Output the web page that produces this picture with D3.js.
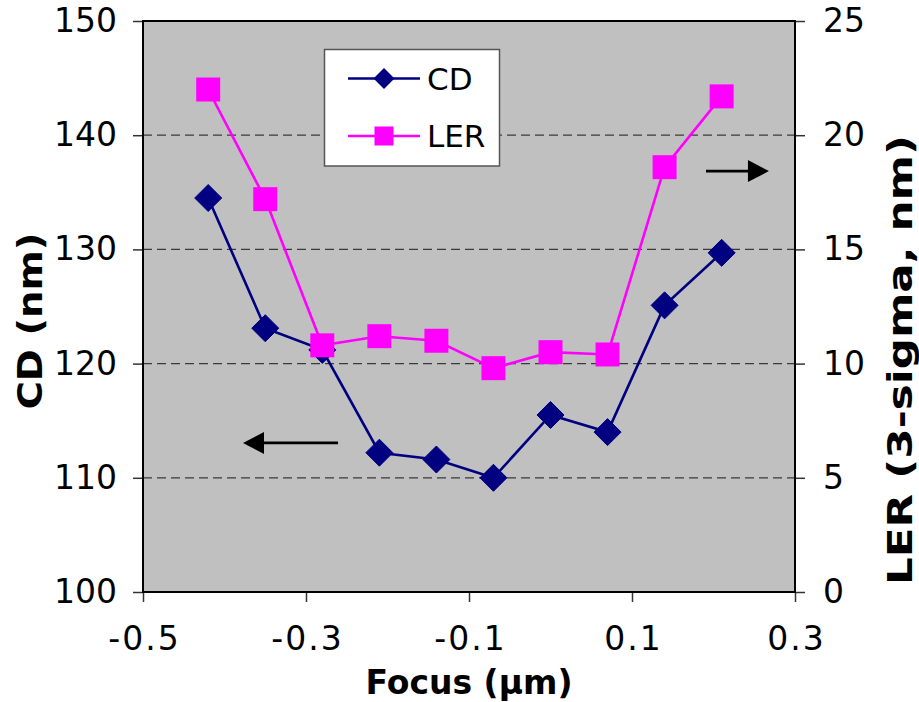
<!DOCTYPE html>
<html>
<head>
<meta charset="utf-8">
<script src="https://cdn.jsdelivr.net/npm/d3@7/dist/d3.min.js"></script>
<style>
  html, body { margin: 0; padding: 0; background: #ffffff; }
  svg { display: block; }
  text { font-family: "DejaVu Sans", Verdana, sans-serif; fill: #000; }
</style>
</head>
<body>
<svg id="chart" width="919" height="702"></svg>
<script>
// Focus positions (µm)
const focus = [-0.42, -0.35, -0.28, -0.21, -0.14, -0.07, 0.0, 0.07, 0.14, 0.21];
// Critical dimension (nm), left axis
const cd = [134.5, 123.1, 121.2, 112.2, 111.6, 110.0, 115.5, 114.0, 125.1, 129.7];
// Line edge roughness (3-sigma, nm), right axis
const ler = [22.0, 17.2, 10.8, 11.2, 11.0, 9.8, 10.5, 10.4, 18.6, 21.7];

// Axis ticks and labels
const xTicks = [-0.5, -0.3, -0.1, 0.1, 0.3];
const xTickLabels = ["-0.5", "-0.3", "-0.1", "0.1", "0.3"];
const cdTicks = [100, 110, 120, 130, 140, 150];
const lerTicks = [0, 5, 10, 15, 20, 25];
const cdGrid = [110, 120, 130, 140];

// Arrows pointing each series to its axis: [x0, x1] in focus units, y on that axis
const cdArrow = { from: -0.2607, to: -0.3773, y: 113.05 };
const lerArrow = { from: 0.1908, to: 0.268, y: 18.43 };

const svg = d3.select("#chart");
const plot = { left: 143, right: 795, top: 21, bottom: 592 };

const x = d3.scaleLinear().domain([-0.5, 0.3]).range([plot.left, plot.right]);
const yCD = d3.scaleLinear().domain([100, 150]).range([plot.bottom, plot.top]);
const yLER = d3.scaleLinear().domain([0, 25]).range([plot.bottom, plot.top]);

// Plot background
svg.append("rect")
  .attr("x", plot.left).attr("y", plot.top)
  .attr("width", plot.right - plot.left).attr("height", plot.bottom - plot.top)
  .attr("fill", "#c0c0c0");

// Dashed gridlines
svg.append("g").selectAll("line").data(cdGrid).join("line")
  .attr("x1", plot.left).attr("x2", plot.right)
  .attr("y1", d => yCD(d)).attr("y2", d => yCD(d))
  .attr("stroke", "#3a3a3a").attr("stroke-width", 1.3)
  .attr("stroke-dasharray", "9,5");

// Axes
const tickFont = "33px";
const gx = svg.append("g").attr("transform", `translate(0,${plot.bottom})`)
  .call(d3.axisBottom(x).tickValues(xTicks).tickFormat((d, i) => xTickLabels[i]).tickSize(10).tickPadding(25));
const gl = svg.append("g").attr("transform", `translate(${plot.left},0)`)
  .call(d3.axisLeft(yCD).tickValues(cdTicks).tickFormat(d3.format("d")).tickSize(10).tickPadding(16));
const gr = svg.append("g").attr("transform", `translate(${plot.right},0)`)
  .call(d3.axisRight(yLER).tickValues(lerTicks).tickFormat(d3.format("d")).tickSize(10).tickPadding(18));

[gx, gl, gr].forEach(g => {
  g.select(".domain").remove();
  g.selectAll(".tick line").attr("stroke", "#333").attr("stroke-width", 1.5);
  g.selectAll(".tick text").style("font-size", tickFont)
    .style("font-family", "'DejaVu Sans', Verdana, sans-serif").attr("fill", "#000");
});
gx.selectAll(".tick text").style("letter-spacing", "2px").attr("dx", "1px");

// Plot frame
svg.append("rect")
  .attr("x", plot.left).attr("y", plot.top)
  .attr("width", plot.right - plot.left).attr("height", plot.bottom - plot.top)
  .attr("fill", "none").attr("stroke", "#000").attr("stroke-width", 2);

// Marker shapes
const diamond = r => `M0,${-r}L${r},0L0,${r}L${-r},0Z`;
const square = s => `M${-s / 2},${-s / 2}h${s}v${s}h${-s}Z`;

const navy = "#000080", magenta = "#ff00ff";

// CD series
const cdPts = focus.map((f, i) => [x(f), yCD(cd[i])]);
svg.append("path").attr("d", d3.line()(cdPts))
  .attr("fill", "none").attr("stroke", navy).attr("stroke-width", 2.6);
svg.append("g").selectAll("path").data(cdPts).join("path")
  .attr("transform", d => `translate(${d[0]},${d[1]})`)
  .attr("d", diamond(13.5)).attr("fill", navy)
  .attr("stroke", navy).attr("stroke-width", 1).attr("stroke-linejoin", "round");

// LER series
const lerPts = focus.map((f, i) => [x(f), yLER(ler[i])]);
svg.append("path").attr("d", d3.line()(lerPts))
  .attr("fill", "none").attr("stroke", magenta).attr("stroke-width", 2.6);
svg.append("g").selectAll("path").data(lerPts).join("path")
  .attr("transform", d => `translate(${d[0]},${d[1]})`)
  .attr("d", square(24)).attr("fill", magenta);

// Arrows
function arrow(x0, x1, y) {
  const dir = Math.sign(x1 - x0);
  const headLen = 21, headHalf = 11;
  svg.append("line")
    .attr("x1", x0).attr("x2", x1 - dir * headLen + dir * 2)
    .attr("y1", y).attr("y2", y)
    .attr("stroke", "#000").attr("stroke-width", 2.8);
  svg.append("path")
    .attr("d", `M${x1},${y}L${x1 - dir * headLen},${y - headHalf}L${x1 - dir * headLen},${y + headHalf}Z`)
    .attr("fill", "#000");
}
arrow(x(cdArrow.from), x(cdArrow.to), yCD(cdArrow.y));
arrow(x(lerArrow.from), x(lerArrow.to), yLER(lerArrow.y));

// Legend
const legend = svg.append("g");
legend.append("rect")
  .attr("x", 324.5).attr("y", 49.5).attr("width", 175).attr("height", 116.5)
  .attr("fill", "#fff").attr("stroke", "#555").attr("stroke-width", 1.5);
const legendItems = [
  { name: "CD", color: navy, shape: diamond(10.5), y: 78.5 },
  { name: "LER", color: magenta, shape: square(19), y: 136 }
];
legendItems.forEach(it => {
  legend.append("line").attr("x1", 348).attr("x2", 420).attr("y1", it.y).attr("y2", it.y)
    .attr("stroke", it.color).attr("stroke-width", 2.6);
  legend.append("path").attr("transform", `translate(384,${it.y})`).attr("d", it.shape).attr("fill", it.color);
  legend.append("text").attr("x", 427).attr("y", it.y).attr("dy", "0.36em")
    .style("font-size", "31px").text(it.name);
});

// Axis titles
svg.append("text")
  .attr("transform", `translate(${(plot.left + plot.right) / 2},694)`)
  .attr("text-anchor", "middle").style("font-size", "34px").style("font-weight", "bold")
  .attr("textLength", 207).attr("lengthAdjust", "spacingAndGlyphs")
  .text("Focus (µm)");
svg.append("text")
  .attr("transform", "translate(42,321) rotate(-90)")
  .attr("text-anchor", "middle").style("font-size", "34px").style("font-weight", "bold")
  .attr("textLength", 177).attr("lengthAdjust", "spacingAndGlyphs")
  .text("CD (nm)");
svg.append("text")
  .attr("transform", "translate(912,360) rotate(-90)")
  .attr("text-anchor", "middle").style("font-size", "34px").style("font-weight", "bold")
  .attr("textLength", 450).attr("lengthAdjust", "spacingAndGlyphs")
  .text("LER (3-sigma, nm)");
</script>
</body>
</html>
